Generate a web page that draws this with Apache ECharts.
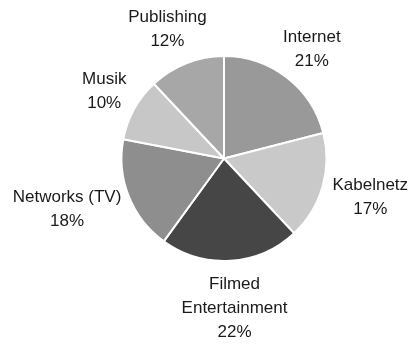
<!DOCTYPE html>
<html>
<head>
<meta charset="utf-8">
<script src="https://cdn.jsdelivr.net/npm/echarts@6/dist/echarts.min.js"></script>
<style>
  html, body { margin: 0; padding: 0; background: #fff; }
  #chart { width: 408px; height: 344px; }
</style>
</head>
<body>
<div id="chart"></div>
<script>
// Segment shares (percent), clockwise from 12 o'clock
const categories = ['Internet', 'Kabelnetz', 'Filmed\nEntertainment', 'Networks (TV)', 'Musik', 'Publishing'];
const shares = [21, 17, 22, 18, 10, 12];
const sliceColors = ['#999999', '#c9c9c9', '#464646', '#8e8e8e', '#c7c7c7', '#a7a7a7'];

const CX = 224, CY = 158.5, R = 102.5, GAP = 12;
const total = shares.reduce((a, b) => a + b, 0);

// Mid-angle of each slice, measured clockwise from the top
function midAngle(i) {
  let before = 0;
  for (let k = 0; k < i; k++) before += shares[k];
  return ((before + shares[i] / 2) / total) * 2 * Math.PI;
}

const chart = echarts.init(document.getElementById('chart'), null, { renderer: 'canvas' });

chart.setOption({
  animation: false,
  backgroundColor: '#ffffff',
  series: [{
    type: 'pie',
    center: [CX, CY],
    radius: [0, R],
    startAngle: 90,
    clockwise: true,
    avoidLabelOverlap: false,
    data: categories.map((name, i) => ({
      name: name,
      value: shares[i],
      itemStyle: { color: sliceColors[i] }
    })),
    itemStyle: { borderColor: '#ffffff', borderWidth: 2 },
    label: {
      show: true,
      position: 'outside',
      formatter: p => p.name + '\n' + p.value + '%',
      fontFamily: 'Liberation Sans, Arial, sans-serif',
      fontSize: 17,
      lineHeight: 24,
      color: '#1a1a1a'
    },
    labelLine: { show: false },
    emphasis: { disabled: true },
    // Centre each label box just outside the rim along its slice's mid-angle
    labelLayout: function (params) {
      const a = midAngle(params.dataIndex);
      const ux = Math.sin(a), uy = -Math.cos(a);
      const w = params.labelRect.width, h = params.labelRect.height;
      return {
        x: CX + ux * (R + GAP + w / 2),
        y: CY + uy * (R + GAP + h / 2),
        align: 'center',
        verticalAlign: 'middle'
      };
    }
  }]
});
</script>
</body>
</html>
